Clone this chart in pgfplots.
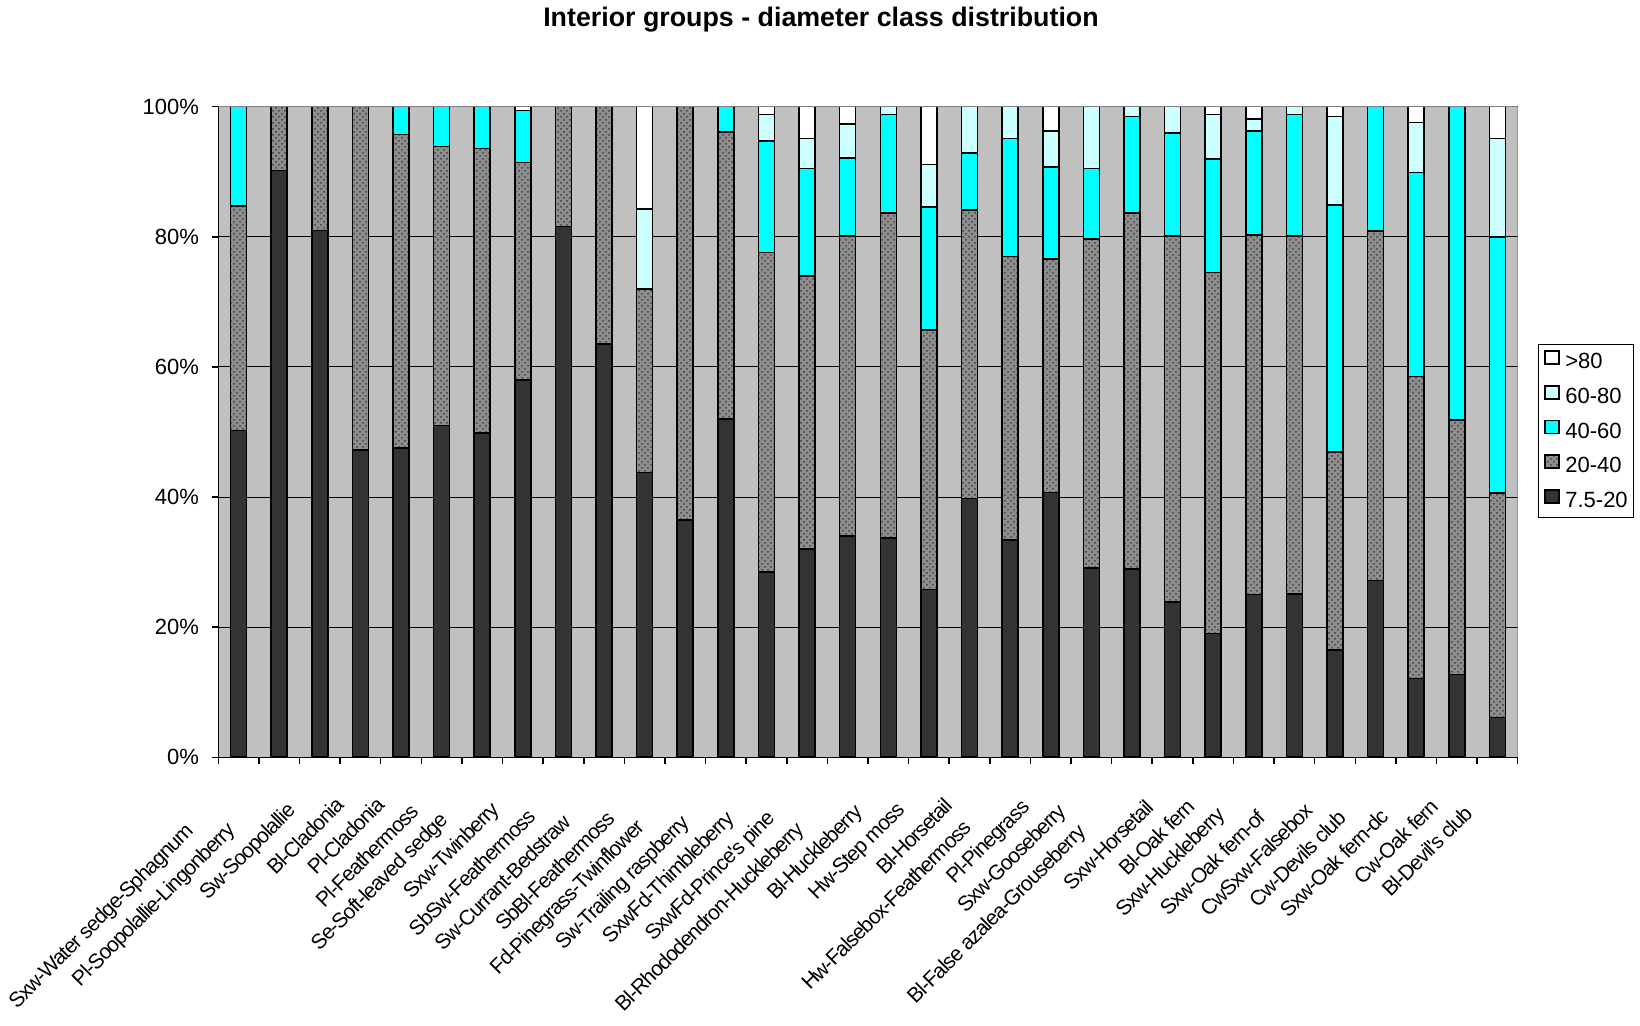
\documentclass[border=0pt]{standalone}
\usepackage{fontspec}
\setmainfont{Liberation Sans}
\newfontfamily\condfont{Liberation Sans}[LetterSpace=-5.0]
\usepackage{pgfplots}
\pgfplotsset{compat=1.18}
\usepackage{pgfplotstable}
\usetikzlibrary{patterns}
\definecolor{plotbg}{RGB}{192,192,192}
\definecolor{darkbar}{RGB}{51,51,51}
\definecolor{hatchbg}{RGB}{142,142,142}
\definecolor{hatchfg}{RGB}{64,64,64}
\definecolor{cyanA}{RGB}{0,255,255}
\definecolor{cyanB}{RGB}{204,255,255}
\definecolor{framegray}{RGB}{128,128,128}

\pgfplotstableread{
x a b c d e
0 50.2 34.5 15.3 0 0
1 90.2 9.8 0 0 0
2 81.0 19.0 0 0 0
3 47.2 52.8 0 0 0
4 47.5 48.2 4.3 0 0
5 51.0 42.9 6.1 0 0
6 49.8 43.8 6.4 0 0
7 58.0 33.4 8.0 0 0.6
8 81.6 18.4 0 0 0
9 63.5 36.5 0 0 0
10 43.8 28.2 0 12.3 15.7
11 36.5 63.5 0 0 0
12 52.0 44.1 3.9 0 0
13 28.5 49.1 17.1 4.1 1.2
14 32.0 42.0 16.5 4.6 4.9
15 34.0 46.1 12.0 5.2 2.7
16 33.7 50.0 15.1 1.2 0
17 25.8 39.9 18.9 6.5 8.9
18 39.8 44.3 8.8 7.1 0
19 33.4 43.6 18.1 4.9 0
20 40.7 35.9 14.1 5.6 3.7
21 29.1 50.6 10.8 9.5 0
22 28.9 54.8 14.8 1.5 0
23 23.9 56.2 15.9 4.0 0
24 19.0 55.5 17.5 6.8 1.2
25 25.0 55.3 16.0 1.8 1.9
26 25.1 55.0 18.7 1.2 0
27 16.5 30.4 38.0 13.6 1.5
28 27.2 53.7 19.1 0 0
29 12.1 46.4 31.4 7.7 2.4
30 12.7 39.1 48.2 0 0
31 6.1 34.5 39.4 15.1 4.9
}\datatable

\pgfplotsset{
  segbar/.style={draw=black, line width=0.8pt,
    legend image code/.code={\draw[##1] (0pt,-0.4pt) rectangle (7pt,6.1pt); \path (9.85pt,0pt);}},
}

\begin{document}
\begin{tikzpicture}
\useasboundingbox (-109.15pt,-134.35pt) rectangle (710.85pt,378.65pt);
\begin{axis}[
  at={(0pt,0pt)}, anchor=south west,
  scale only axis, width=649.7pt, height=325.3pt,
  ybar stacked, bar width=8pt,
  xmin=-0.5, xmax=31.5, ymin=0, ymax=100,
  axis background/.style={fill=plotbg},
  axis x line*=bottom, axis y line*=left,
  axis line style={black, line width=0.75pt},
  ymajorgrids, grid style={black, line width=0.5pt},
  ytick={0,20,...,100},
  yticklabels={0\%,20\%,40\%,60\%,80\%,100\%},
  xtick={0,...,31},
  minor xtick={-0.5,0.5,...,31.5},
  tick align=outside,
  major tick length=3.3pt, minor tick length=3.3pt,
  major x tick style={draw=none},
  minor x tick style={draw=black, line width=0.75pt},
  ytick style={draw=black, line width=0.75pt},
  yticklabel style={font=\fontsize{11}{13}\selectfont, inner sep=0pt},
  yticklabel shift=6.2pt,
  xticklabel style={rotate=45, anchor=east, inner sep=0pt,
    font=\condfont\fontsize{10.5}{12.5}\selectfont},
  xticklabel shift=8.3pt,
  xticklabels={
    Sxw-Water sedge-Sphagnum\hspace*{33.9pt},
    Pl-Soopolallie-Lingonberry\hspace*{33.1pt},
    Sw-Soopolallie\hspace*{19.1pt},
    Bl-Cladonia\hspace*{14.5pt},
    Pl-Cladonia\hspace*{14.5pt},
    Pl-Feathermoss\hspace*{19.1pt},
    Se-Soft-leaved sedge\hspace*{26.2pt},
    Sxw-Twinberry\hspace*{18.7pt},
    SbSw-Feathermoss\hspace*{22.5pt},
    Sw-Currant-Bedstraw\hspace*{26.4pt},
    SbBl-Feathermoss\hspace*{24.0pt},
    Fd-Pinegrass-Twinflower\hspace*{30.7pt},
    Sw-Trailing raspberry\hspace*{27.9pt},
    SxwFd-Thimbleberry\hspace*{24.8pt},
    SxwFd-Prince's pine\hspace*{24.8pt},
    Bl-Rhododendron-Huckleberry\hspace*{32.8pt},
    Bl-Huckleberry\hspace*{20.2pt},
    Hw-Step moss\hspace*{18.8pt},
    Bl-Horsetail\hspace*{15.0pt},
    Hw-Falsebox-Feathermoss\hspace*{30.4pt},
    Pl-Pinegrass\hspace*{16.8pt},
    Sxw-Gooseberry\hspace*{19.9pt},
    Bl-False azalea-Grouseberry\hspace*{34.4pt},
    Sxw-Horsetail\hspace*{16.2pt},
    Bl-Oak fern\hspace*{15.8pt},
    Sxw-Huckleberry\hspace*{22.2pt},
    Sxw-Oak fern-of\hspace*{23.5pt},
    CwSxw-Falsebox\hspace*{18.5pt},
    Cw-Devils club\hspace*{23.6pt},
    Sxw-Oak fern-dc\hspace*{22.4pt},
    Cw-Oak fern\hspace*{15.9pt},
    Bl-Devil's club\hspace*{20.3pt}},
  legend style={at={(1.0154,0.636)}, anchor=north west, draw=black,
    line width=0.75pt, fill=white, font=\fontsize{11}{13}\selectfont,
    inner xsep=2.8pt, inner ysep=3pt, row sep=6.1pt,
    nodes={inner sep=0pt, text height=7.5pt, text depth=2pt}},
  legend cell align=left,
  reverse legend,
]
\draw[framegray, line width=0.75pt] (rel axis cs:0,1) -- (rel axis cs:1,1) -- (rel axis cs:1,0);
\addplot[segbar, fill=darkbar] table[x=x, y=a] {\datatable};
\addplot[segbar, fill=hatchbg, postaction={pattern=crosshatch dots, pattern color=hatchfg}] table[x=x, y=b] {\datatable};
\addplot[segbar, fill=cyanA] table[x=x, y=c] {\datatable};
\addplot[segbar, fill=cyanB] table[x=x, y=d] {\datatable};
\addplot[segbar, fill=white] table[x=x, y=e] {\datatable};
\legend{7.5-20, 20-40, 40-60, 60-80, >80}
\end{axis}
\node[font=\bfseries\fontsize{13.4}{16}\selectfont] at (301.35pt,368.9pt) {Interior groups - diameter class distribution};
\end{tikzpicture}
\end{document}
